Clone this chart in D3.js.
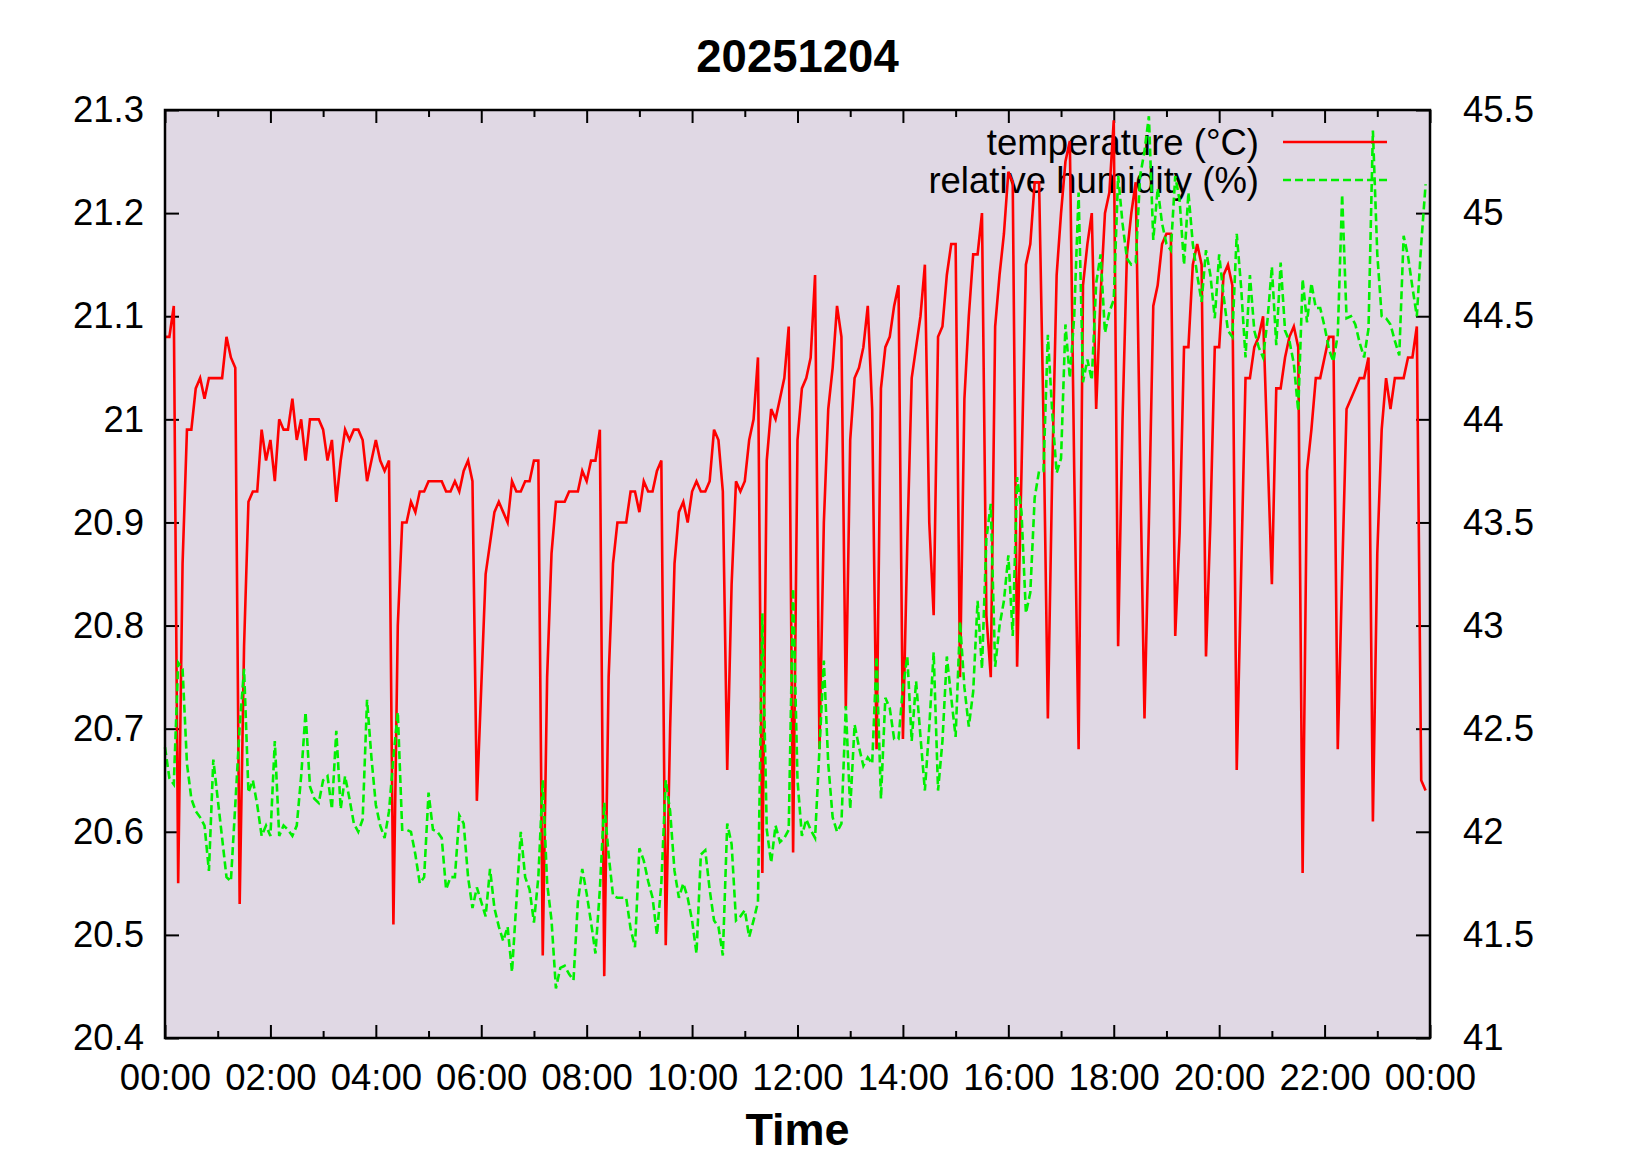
<!DOCTYPE html>
<html><head><meta charset="utf-8">
<script src="https://cdn.jsdelivr.net/npm/d3@7"></script>
<style>
body{margin:0;background:#fff}
svg{display:block}
text{font-family:"Liberation Sans",Arial,Helvetica,sans-serif;fill:#000}
</style>
</head><body>
<svg id="chart" width="1650" height="1155"></svg>
<script>
// ---------------- data ----------------
const chartTitle = "20251204";
const xAxisTitle = "Time";
const seriesNames = ["temperature (°C)", "relative humidity (%)"];
const dayStart = "2025-12-04T00:00:00";
const sampleMinutes = 5;

// temperature (°C), one row per hour, 5-minute samples
const temperature = [
21.08,21.08,21.11,20.55,20.86,20.99,20.99,21.03,21.04,21.02,21.04,21.04,
21.04,21.04,21.08,21.06,21.05,20.53,20.78,20.92,20.93,20.93,20.99,20.96,
20.98,20.94,21.00,20.99,20.99,21.02,20.98,21.00,20.96,21.00,21.00,21.00,
20.99,20.96,20.98,20.92,20.96,20.99,20.98,20.99,20.99,20.98,20.94,20.96,
20.98,20.96,20.95,20.96,20.51,20.80,20.90,20.90,20.92,20.91,20.93,20.93,
20.94,20.94,20.94,20.94,20.93,20.93,20.94,20.93,20.95,20.96,20.94,20.63,
20.74,20.85,20.88,20.91,20.92,20.91,20.90,20.94,20.93,20.93,20.94,20.94,
20.96,20.96,20.48,20.75,20.87,20.92,20.92,20.92,20.93,20.93,20.93,20.95,
20.94,20.96,20.96,20.99,20.46,20.75,20.86,20.90,20.90,20.90,20.93,20.93,
20.91,20.94,20.93,20.93,20.95,20.96,20.49,20.70,20.86,20.91,20.92,20.90,
20.93,20.94,20.93,20.93,20.94,20.99,20.98,20.93,20.66,20.84,20.94,20.93,
20.94,20.98,21.00,21.06,20.56,20.96,21.01,21.00,21.02,21.04,21.09,20.58,
20.98,21.03,21.04,21.06,21.14,20.68,20.90,21.01,21.05,21.11,21.08,20.72,
20.98,21.04,21.05,21.07,21.11,21.01,20.68,21.03,21.07,21.08,21.11,21.13,
20.69,20.88,21.04,21.07,21.10,21.15,20.90,20.81,21.08,21.09,21.14,21.17,
21.17,20.75,21.02,21.10,21.16,21.16,21.20,20.81,20.75,21.09,21.14,21.18,
21.24,21.23,20.76,20.95,21.15,21.17,21.23,21.23,21.00,20.71,20.95,21.14,
21.20,21.25,21.27,20.95,20.68,21.13,21.17,21.20,21.01,21.12,21.20,21.22,
21.29,20.78,21.00,21.16,21.20,21.23,20.96,20.71,20.90,21.11,21.13,21.17,
21.18,21.18,20.79,20.89,21.07,21.07,21.15,21.17,21.15,20.77,20.90,21.07,
21.07,21.14,21.15,21.13,20.66,20.85,21.04,21.04,21.07,21.08,21.10,20.97,
20.84,21.03,21.03,21.06,21.08,21.09,21.07,20.56,20.95,20.99,21.04,21.04,
21.06,21.08,21.08,20.68,20.85,21.01,21.02,21.03,21.04,21.04,21.06,20.61,
20.87,20.99,21.04,21.01,21.04,21.04,21.04,21.06,21.06,21.09,20.65,20.64
];

// relative humidity (%), one row per hour, 5-minute samples
const humidity = [
42.41,42.26,42.23,42.82,42.79,42.33,42.16,42.10,42.07,42.03,41.81,42.35,
42.16,41.97,41.78,41.76,42.13,42.51,42.79,42.19,42.25,42.13,41.98,42.03,
41.98,42.44,41.98,42.03,42.01,41.98,42.03,42.27,42.58,42.22,42.16,42.14,
42.25,42.27,42.11,42.49,42.11,42.27,42.16,42.04,42.00,42.06,42.64,42.36,
42.13,42.03,41.97,42.10,42.36,42.58,42.01,42.01,42.00,41.89,41.75,41.78,
42.19,42.01,42.00,41.97,41.72,41.78,41.78,42.08,42.04,41.78,41.63,41.73,
41.66,41.59,41.82,41.63,41.54,41.47,41.54,41.32,41.66,42.00,41.78,41.72,
41.56,41.78,42.25,41.75,41.57,41.24,41.34,41.35,41.31,41.28,41.66,41.82,
41.70,41.56,41.41,41.72,42.14,41.89,41.69,41.68,41.68,41.68,41.53,41.44,
41.92,41.86,41.76,41.68,41.50,41.75,42.25,42.10,41.81,41.68,41.75,41.68,
41.57,41.41,41.89,41.91,41.72,41.57,41.54,41.40,42.04,41.94,41.57,41.59,
41.62,41.49,41.57,41.66,43.06,42.01,41.85,42.03,41.95,41.97,42.01,43.18,
42.25,41.98,42.06,42.01,41.97,42.40,42.83,42.33,42.07,42.00,42.04,42.61,
42.11,42.52,42.41,42.32,42.36,42.33,42.85,42.16,42.65,42.60,42.45,42.45,
42.70,42.85,42.44,42.73,42.46,42.20,42.51,42.87,42.20,42.44,42.85,42.65,
42.46,43.02,42.70,42.51,42.68,43.12,42.79,43.42,43.59,42.80,43.00,43.12,
43.34,42.95,43.72,43.55,43.06,43.16,43.62,43.75,43.75,44.41,44.03,43.74,
43.81,44.46,44.20,44.50,45.10,44.18,44.29,44.19,44.66,44.80,44.42,44.52,
44.58,45.18,44.95,44.78,44.75,44.76,45.18,45.30,45.47,44.87,45.12,44.95,
44.85,44.82,45.18,45.06,44.75,45.10,44.85,44.70,44.57,44.82,44.70,44.49,
44.80,44.60,44.43,44.40,44.90,44.64,44.30,44.70,44.43,44.35,44.30,44.48,
44.74,44.36,44.76,44.43,44.38,44.27,44.04,44.68,44.47,44.66,44.54,44.54,
44.45,44.34,44.28,44.41,45.09,44.49,44.50,44.46,44.37,44.30,44.44,45.40,
44.80,44.50,44.49,44.46,44.38,44.31,44.89,44.79,44.64,44.50,44.85,45.14
];

const tempTicks = [20.4,20.5,20.6,20.7,20.8,20.9,21.0,21.1,21.2,21.3];
const tempTickLabels = ["20.4","20.5","20.6","20.7","20.8","20.9","21","21.1","21.2","21.3"];
const humTicks = [41,41.5,42,42.5,43,43.5,44,44.5,45,45.5];
const humTickLabels = ["41","41.5","42","42.5","43","43.5","44","44.5","45","45.5"];
const timeTickHours = [0,2,4,6,8,10,12,14,16,18,20,22,24];
const timeTickLabels = ["00:00","02:00","04:00","06:00","08:00","10:00","12:00","14:00","16:00","18:00","20:00","22:00","00:00"];
const timeMinorHours = [1,3,5,7,9,11,13,15,17,19,21,23];

// ---------------- drawing ----------------
const plot = {left:165, right:1430, top:110, bottom:1038};
const svg = d3.select("#chart");

const t0 = new Date(dayStart);
const hourMs = 3600 * 1000;
const timeAt = i => new Date(t0.getTime() + i * sampleMinutes * 60000);
const hourDate = h => new Date(t0.getTime() + h * hourMs);

const x = d3.scaleTime().domain([t0, hourDate(24)]).range([plot.left, plot.right]);
const yT = d3.scaleLinear().domain([20.4, 21.3]).range([plot.bottom, plot.top]);
const yH = d3.scaleLinear().domain([41, 45.5]).range([plot.bottom, plot.top]);

// plot background
svg.append("rect")
  .attr("x", plot.left).attr("y", plot.top)
  .attr("width", plot.right - plot.left).attr("height", plot.bottom - plot.top)
  .attr("fill", "#e0d8e4");

const fontTick = 36.5;

// bottom axis (major + labels)
const gB = svg.append("g").attr("transform", `translate(0,${plot.bottom})`)
  .call(d3.axisBottom(x).tickValues(timeTickHours.map(hourDate))
    .tickFormat((d, i) => timeTickLabels[i]).tickSizeInner(-13).tickSizeOuter(0).tickPadding(26));
const gBm = svg.append("g").attr("transform", `translate(0,${plot.bottom})`)
  .call(d3.axisBottom(x).tickValues(timeMinorHours.map(hourDate)).tickFormat("").tickSizeInner(-7).tickSizeOuter(0));
// top mirror ticks
const gT = svg.append("g").attr("transform", `translate(0,${plot.top})`)
  .call(d3.axisTop(x).tickValues(timeTickHours.map(hourDate)).tickFormat("").tickSizeInner(-13).tickSizeOuter(0));
const gTm = svg.append("g").attr("transform", `translate(0,${plot.top})`)
  .call(d3.axisTop(x).tickValues(timeMinorHours.map(hourDate)).tickFormat("").tickSizeInner(-7).tickSizeOuter(0));
// left axis
const gL = svg.append("g").attr("transform", `translate(${plot.left},0)`)
  .call(d3.axisLeft(yT).tickValues(tempTicks).tickFormat((d, i) => tempTickLabels[i])
    .tickSizeInner(-14).tickSizeOuter(0).tickPadding(21));
// right axis
const gR = svg.append("g").attr("transform", `translate(${plot.right},0)`)
  .call(d3.axisRight(yH).tickValues(humTicks).tickFormat((d, i) => humTickLabels[i])
    .tickSizeInner(-14).tickSizeOuter(0).tickPadding(33));

[gB, gBm, gT, gTm, gL, gR].forEach(g => {
  g.select(".domain").remove();
  g.selectAll(".tick line").attr("stroke", "#000").attr("stroke-width", 2);
  g.selectAll(".tick text").attr("font-size", fontTick).attr("fill", "#000")
    .style("font-family", '"Liberation Sans",Arial,Helvetica,sans-serif');
});

// title & axis label
svg.append("text").attr("x", (plot.left + plot.right) / 2).attr("y", 72)
  .attr("text-anchor", "middle").attr("font-size", 45.5).attr("font-weight", "bold").text(chartTitle);
svg.append("text").attr("x", (plot.left + plot.right) / 2).attr("y", 1145)
  .attr("text-anchor", "middle").attr("font-size", 45).attr("font-weight", "bold").text(xAxisTitle);

// legend text
const legendTextX = 1259, legendRowY = [142, 180];
const legendLine = {x1:1283, x2:1387};
seriesNames.forEach((name, i) => {
  svg.append("text").attr("x", legendTextX).attr("y", legendRowY[i] + 13)
    .attr("text-anchor", "end").attr("font-size", 36.5).text(name);
});

// series
const tempLine = d3.line().x((d, i) => x(timeAt(i))).y(d => yT(d));
const humLine = d3.line().x((d, i) => x(timeAt(i))).y(d => yH(d));
const red = "#ff0000", green = "#00f000";

svg.append("path").datum(temperature).attr("d", tempLine)
  .attr("fill", "none").attr("stroke", red).attr("stroke-width", 2.6);
svg.append("path").datum(humidity).attr("d", humLine)
  .attr("fill", "none").attr("stroke", green).attr("stroke-width", 2.6)
  .attr("stroke-dasharray", "8,4");

// legend samples
svg.append("line").attr("x1", legendLine.x1).attr("x2", legendLine.x2)
  .attr("y1", legendRowY[0]).attr("y2", legendRowY[0])
  .attr("stroke", red).attr("stroke-width", 2.6);
svg.append("line").attr("x1", legendLine.x1).attr("x2", legendLine.x2)
  .attr("y1", legendRowY[1]).attr("y2", legendRowY[1])
  .attr("stroke", green).attr("stroke-width", 2.6).attr("stroke-dasharray", "8,4");

// border
svg.append("rect")
  .attr("x", plot.left).attr("y", plot.top)
  .attr("width", plot.right - plot.left).attr("height", plot.bottom - plot.top)
  .attr("fill", "none").attr("stroke", "#000").attr("stroke-width", 2.5);
</script>
</body></html>
